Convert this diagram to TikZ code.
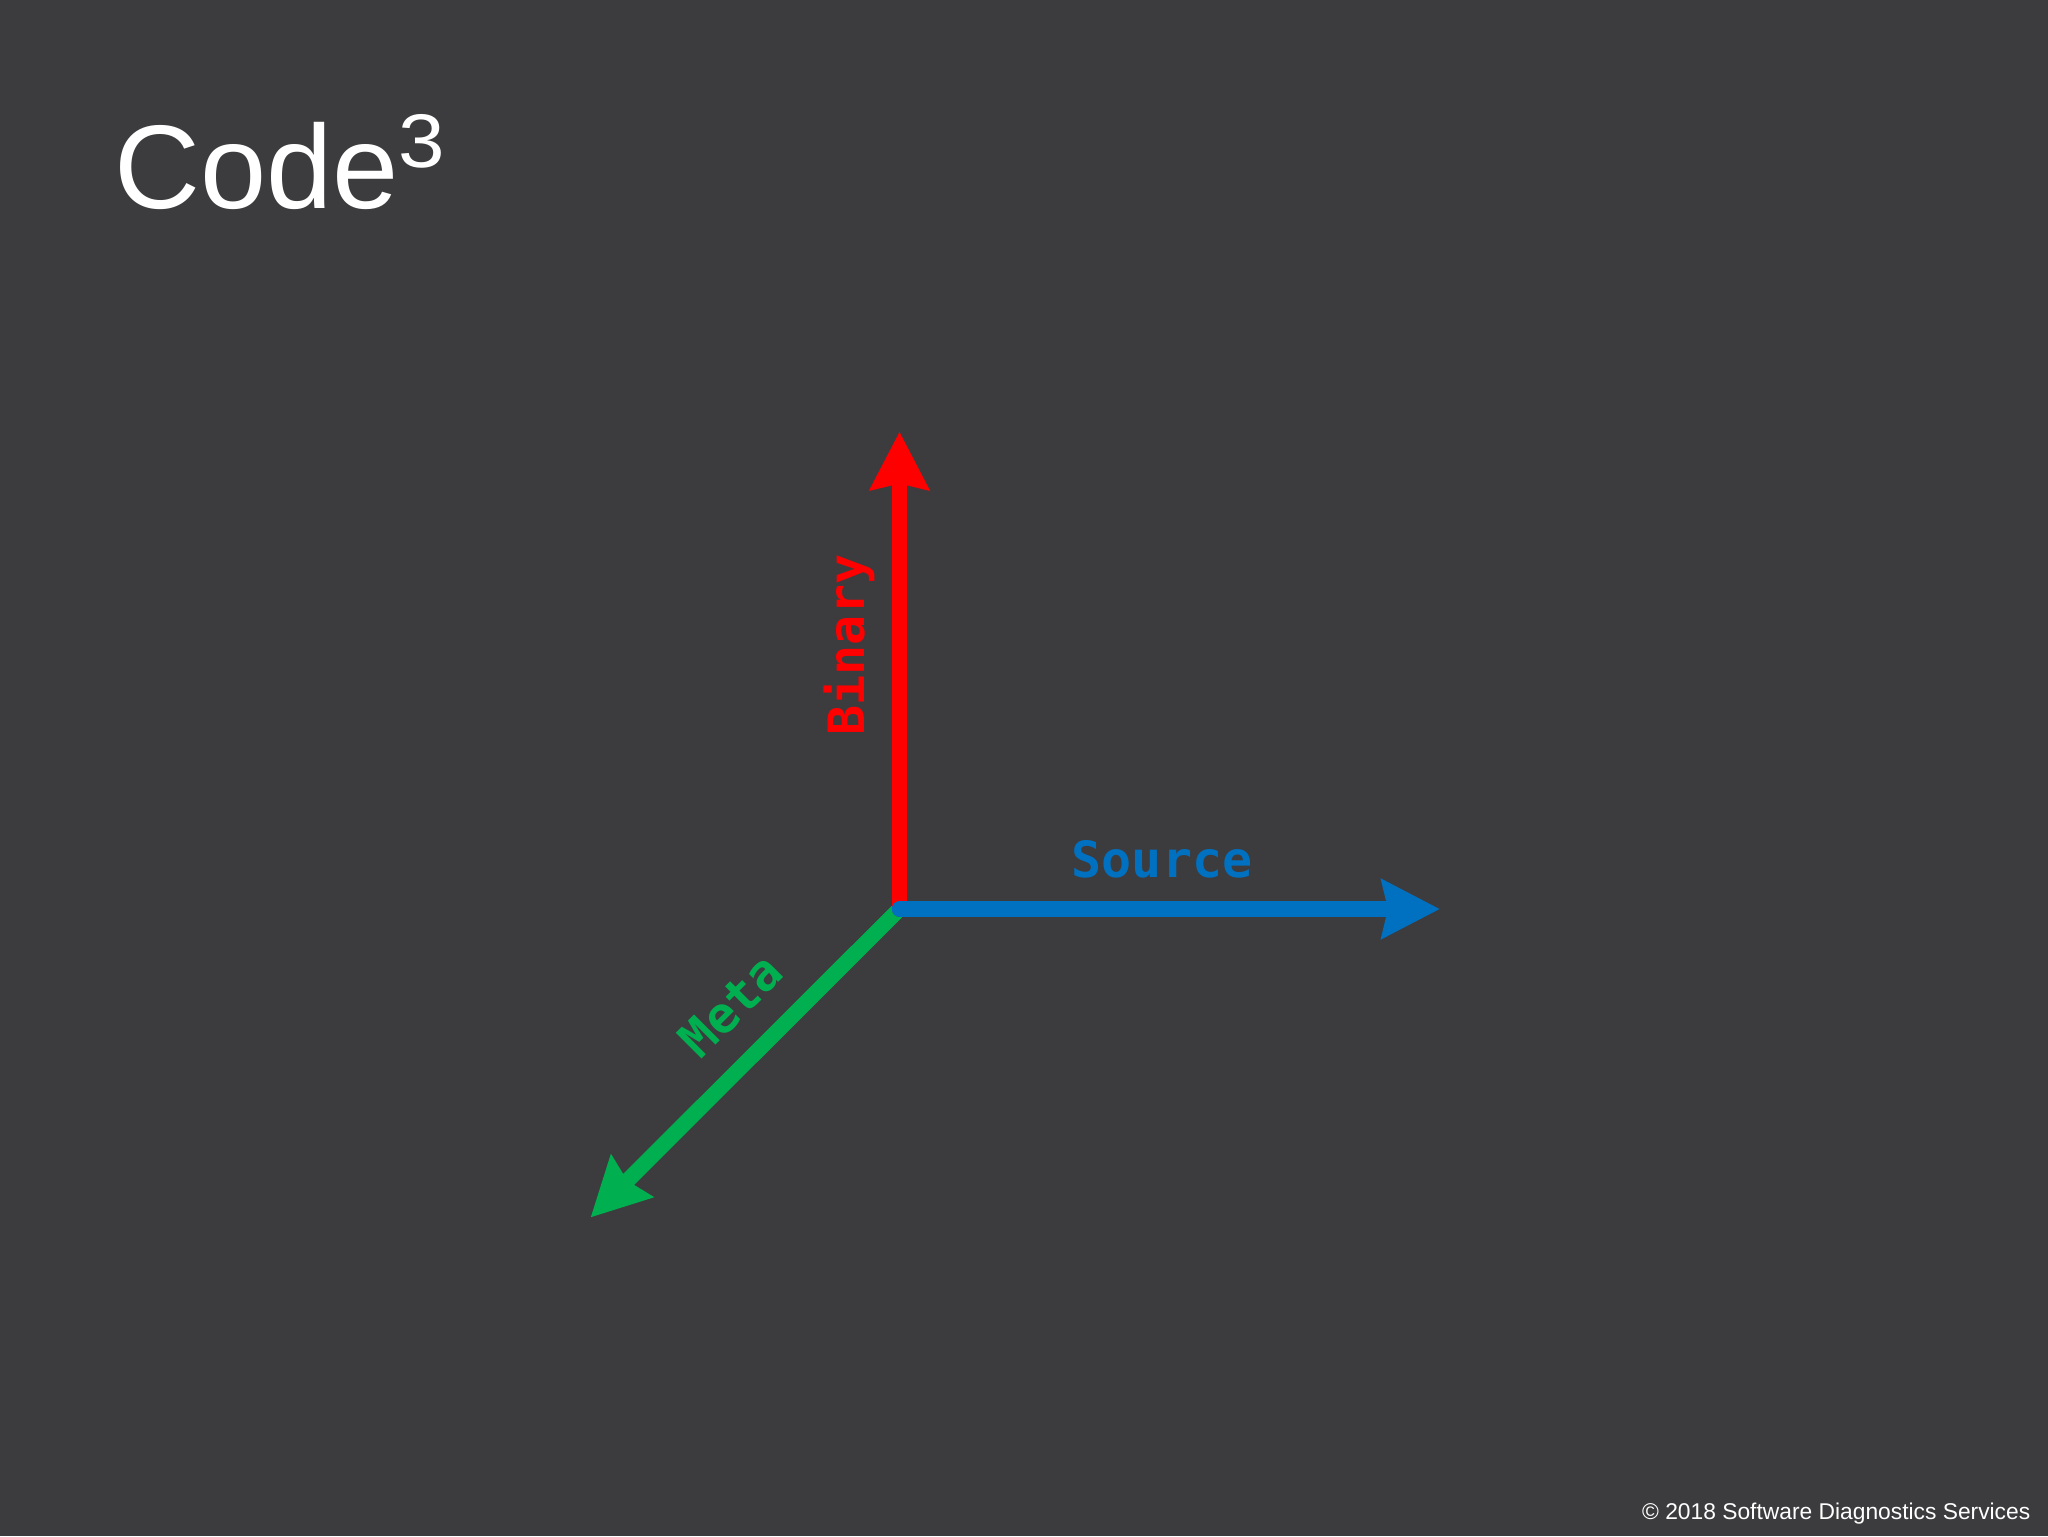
\documentclass[tikz,border=0pt]{standalone}
\usepackage{fontspec}
\setmainfont{Liberation Sans}
\newfontfamily\axisfont{DejaVu Sans Mono}
\usetikzlibrary{arrows.meta,positioning}
\definecolor{slidebg}{RGB}{60,59,61}
\definecolor{binred}{RGB}{255,0,0}
\definecolor{srcblue}{RGB}{0,112,192}
\definecolor{metagreen}{RGB}{0,176,80}
\tikzset{>={Stealth[length=29pt,width=29pt,inset=3pt]}}

\begin{document}
\begin{tikzpicture}[x=0.5pt,y=-0.5pt,line width=7.75pt,
        axis/.style={->,line cap=round},
        lbl/.style={font=\axisfont\bfseries\fontsize{25}{25}\selectfont,inner sep=0pt,anchor=base}]
        \fill[slidebg] (0,0) rectangle (2048,1536);
        \useasboundingbox (0,0) rectangle (2048,1536);
        \node[inner sep=0pt,anchor=base west,text=white,font=\fontsize{59.5}{60}\selectfont]
            (title) at (107,208.5) {Code\kern-0.5pt\raisebox{20.75pt}{\fontsize{38}{39}\selectfont\scalebox{1.1}[1]{3}}};
        % the three axes
        \coordinate (o) at (899.5,909);
        \coordinate (bin) at (899.5,431.5);
        \coordinate (src) at (1440,909);
        \coordinate (meta) at (590.5,1217.5);
        \draw[axis,metagreen] (o) -- (meta);
        \draw[axis,binred] (o) -- (bin);
        \draw[axis,srcblue] (o) -- (src);
        \node[lbl,text=binred,rotate=90] (binlbl) at (864,645) {Binary};
        \node[lbl,text=srcblue] (srclbl) at (1162,877) {Source};
        \node[lbl,text=metagreen,rotate=45] (metalbl) at (743.5,1018) {Meta};
        \node[inner sep=0pt,anchor=base east,text=white,font=\fontsize{11.4}{12}\selectfont]
            (copy) at (2038,1519) {© 2018 Software Diagnostics Services};
    \end{tikzpicture}
\end{document}
